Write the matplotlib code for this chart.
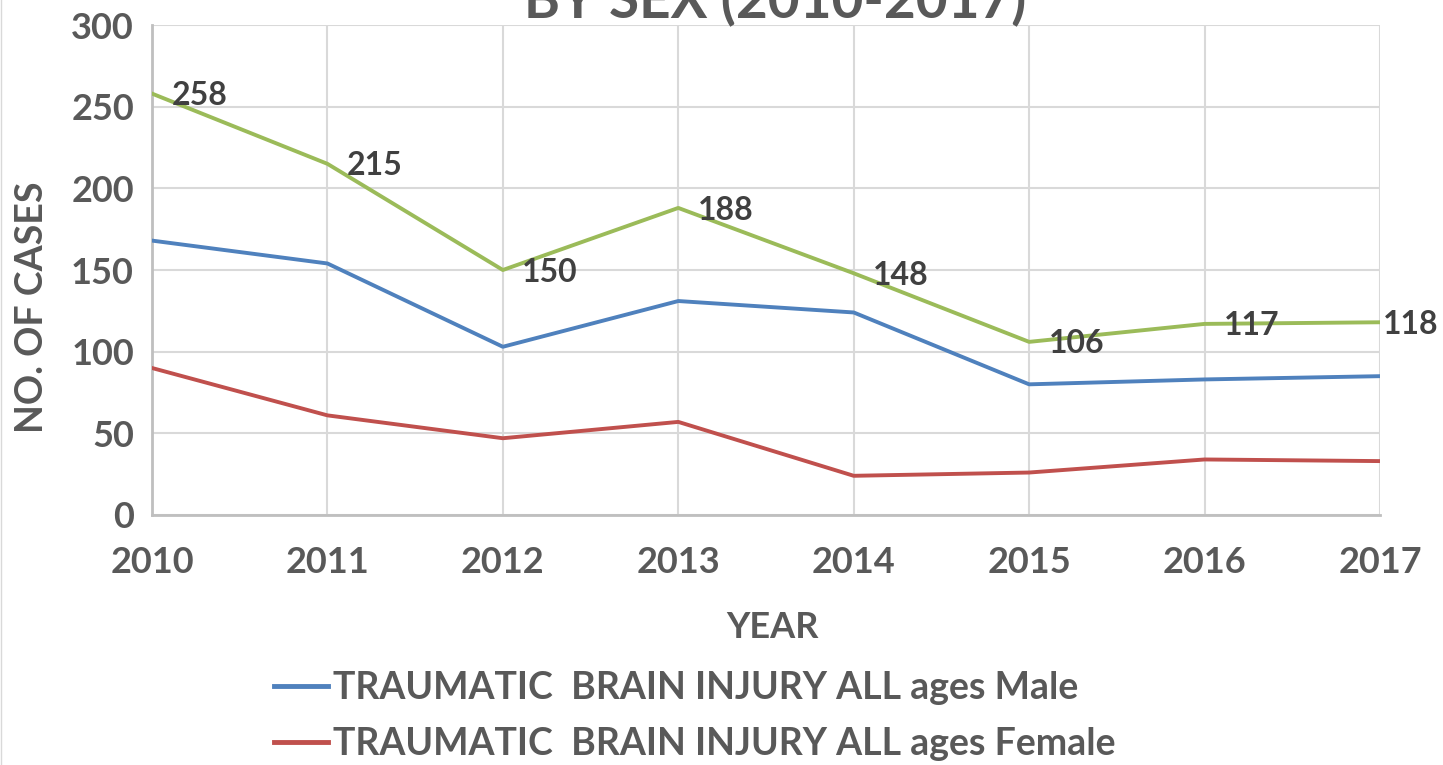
import numpy as np
import matplotlib
matplotlib.use("Agg")
import matplotlib.pyplot as plt
from matplotlib.lines import Line2D

# data
years = [2010, 2011, 2012, 2013, 2014, 2015, 2016, 2017]
male = [168, 154, 103, 131, 124, 80, 83, 85]
female = [90, 61, 47, 57, 24, 26, 34, 33]
total = [258, 215, 150, 188, 148, 106, 117, 118]
yticks = [0, 50, 100, 150, 200, 250, 300]

BLUE = "#4f81bd"
RED = "#c0504d"
GREEN = "#9bbb59"
TXT = "#595959"

plt.rcParams['font.family'] = ['Lato', 'DejaVu Sans']
plt.rcParams['font.weight'] = 'bold'

fig = plt.figure(figsize=(14.43, 7.65), dpi=100)
ax = fig.add_axes([152/1443, 1 - 515/765, (1380 - 152)/1443, (515 - 25)/765])

x = np.arange(len(years))
ax.plot(x, male, color=BLUE, lw=2.8, solid_joinstyle='round', zorder=3)
ax.plot(x, female, color=RED, lw=2.8, solid_joinstyle='round', zorder=3)
ax.plot(x, total, color=GREEN, lw=2.8, solid_joinstyle='round', zorder=3)

# data labels on the total line, right of the point
# (last one pulled in so it stays inside the chart, as Excel does)
for xi, v in zip(x, total):
    dx = 2 if xi == x[-1] else 14
    ax.annotate(str(v), (xi, v), xytext=(dx, -1.5), textcoords='offset points',
                ha='left', va='center', fontsize=23, fontweight='bold',
                color="#404040", zorder=4, annotation_clip=False)

ax.set_xlim(0, len(years) - 1)
ax.set_ylim(0, 300)
ax.set_xticks(x)
ax.set_xticklabels([str(y) for y in years])
ax.set_yticks(yticks)
ax.tick_params(axis='both', length=0, labelsize=26, colors=TXT)
ax.tick_params(axis='x', pad=22)
ax.tick_params(axis='y', pad=13)
for lab in ax.get_xticklabels() + ax.get_yticklabels():
    lab.set_fontweight('bold')

ax.grid(True, color="#d9d9d9", lw=1.5, zorder=0)
ax.set_axisbelow(True)
for s in ['top', 'right']:
    ax.spines[s].set_visible(False)
for s in ['left', 'bottom']:
    ax.spines[s].set_color("#bfbfbf")
    ax.spines[s].set_linewidth(2)

fig.text(772/1443, 1 - 627/765, "YEAR", ha='center', va='center',
         fontsize=26, fontweight='bold', color=TXT)
fig.text(32/1443, 1 - 307/765, "NO. OF CASES", ha='center', va='center',
         rotation=90, fontsize=27, fontweight='bold', color=TXT)

# title, cut off by the top edge like in the reference
fig.text(775/1443, 1 - 18/765, "BY SEX (2010-2017)", ha='center', va='baseline',
         fontsize=39.5, fontweight='bold', color=TXT)

handles = [Line2D([], [], color=BLUE, lw=3.5),
           Line2D([], [], color=RED, lw=3.5)]
labels = ["TRAUMATIC  BRAIN INJURY ALL ages Male",
          "TRAUMATIC  BRAIN INJURY ALL ages Female"]
fig.legend(handles, labels, loc='center left',
           bbox_to_anchor=(274/1443, 1 - 716/765), frameon=False,
           handlelength=1.45, handletextpad=0.12, borderaxespad=0,
           labelspacing=0.6, borderpad=0, labelcolor=TXT,
           prop={'weight': 'bold', 'size': 27})

fig.add_artist(Line2D([1/1443, 1/1443], [0, 1], color="#d9d9d9", lw=1))

fig.savefig("out.png", dpi=100)
